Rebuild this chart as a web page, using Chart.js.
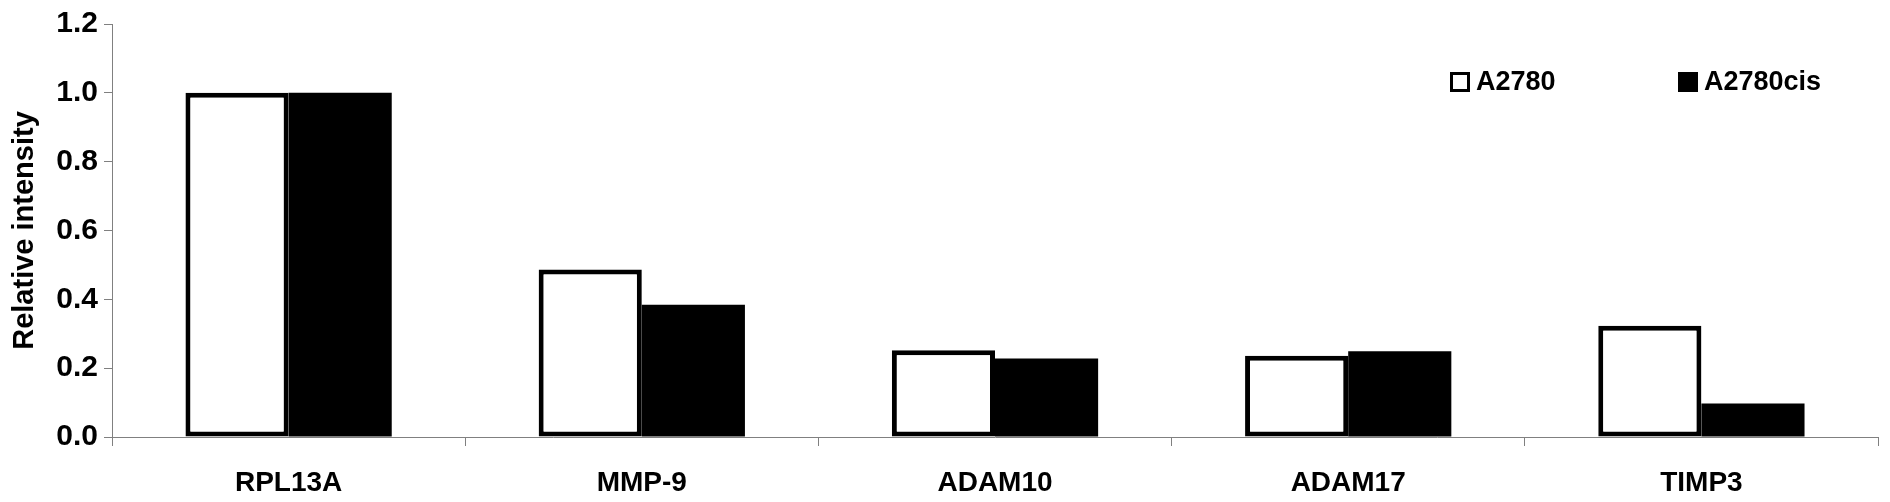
<!DOCTYPE html>
<html>
<head>
<meta charset="utf-8">
<script src="https://cdn.jsdelivr.net/npm/chart.js@4/dist/chart.umd.min.js"></script>
<style>
  html, body { margin: 0; padding: 0; background: #fff; }
  #wrap { width: 1890px; height: 502px; }
</style>
</head>
<body>
<div id="wrap"><canvas id="chart"></canvas></div>
<script>
var genes = ["RPL13A", "MMP-9", "ADAM10", "ADAM17", "TIMP3"];
var a2780 = [1.0, 0.487, 0.252, 0.236, 0.323];
var a2780cis = [1.0, 0.384, 0.228, 0.249, 0.097];
var yTicks = [0, 0.2, 0.4, 0.6, 0.8, 1.0, 1.2];

var FONT = "'Liberation Sans', Arial, sans-serif";
var axisGray = "#808080";

// legend drawn inside the plot, top right
var legendBoxes = {
  id: "legendBoxes",
  afterDraw: function(chart) {
    var ctx = chart.ctx;
    var spots = [1450, 1678];
    ctx.save();
    ctx.font = "bold 27px " + FONT;
    ctx.textBaseline = "middle";
    ctx.fillStyle = "#000";
    chart.data.datasets.forEach(function(ds, i) {
      var x = spots[i], y = 72;
      if (ds.backgroundColor === "#000") {
        ctx.fillRect(x, y, 20, 20);
      } else {
        ctx.lineWidth = 3;
        ctx.strokeStyle = "#000";
        ctx.strokeRect(x + 1.5, y + 1.5, 17, 17);
      }
      ctx.fillText(ds.label, x + 26, y + 11);
    });
    ctx.restore();
  }
};

new Chart("chart", {
  type: "bar",
  data: {
    labels: genes,
    datasets: [
      {
        label: "A2780",
        data: a2780,
        backgroundColor: "#fff",
        borderColor: "#000",
        borderWidth: 5,
        borderSkipped: false,
      },
      {
        label: "A2780cis",
        data: a2780cis,
        backgroundColor: "#000",
        borderColor: "#000",
        borderWidth: 0,
      },
    ],
  },
  options: {
    responsive: true,
    maintainAspectRatio: false,
    animation: false,
    categoryPercentage: 0.584,
    barPercentage: 1.0,
    layout: {
      padding: { top: 21, right: 12, left: 0, bottom: 0 },
    },
    plugins: {
      legend: { display: false },
      tooltip: { enabled: false },
    },
    scales: {
      x: {
        afterFit: function(scale) { scale.height = 65; },
        grid: {
          offset: true,
          drawOnChartArea: false,
          color: axisGray,
          tickLength: 9,
        },
        border: { color: axisGray, width: 1 },
        ticks: {
          color: "#000",
          padding: 20,
          font: { family: FONT, size: 28, weight: "bold" },
        },
      },
      y: {
        min: 0,
        max: 1.2,
        afterFit: function(scale) { scale.width = 112; },
        afterBuildTicks: function(scale) {
          scale.ticks = yTicks.map(function(v) { return { value: v }; });
        },
        grid: {
          drawOnChartArea: false,
          color: axisGray,
          tickLength: 8,
        },
        border: { color: axisGray, width: 1 },
        ticks: {
          color: "#000",
          padding: 6,
          font: { family: FONT, size: 30, weight: "bold" },
          callback: function(v) { return Number(v).toFixed(1); },
        },
        title: {
          display: true,
          text: "Relative intensity",
          color: "#000",
          padding: { top: 8, bottom: 0 },
          font: { family: FONT, size: 29, weight: "bold" },
        },
      },
    },
  },
  plugins: [legendBoxes],
});
</script>
</body>
</html>
